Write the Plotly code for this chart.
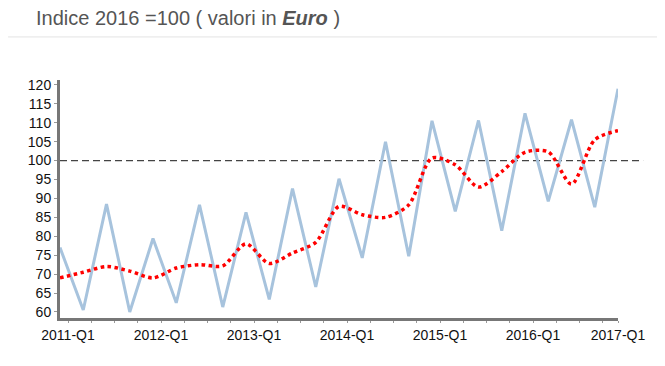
import plotly.graph_objects as go

quarters = [f"{y}-Q{q}" for y in range(2011, 2017) for q in range(1, 5)] + ["2017-Q1"]
tick_labels = ["2011-Q1", "2012-Q1", "2013-Q1", "2014-Q1", "2015-Q1", "2016-Q1", "2017-Q1"]
indice = [77, 60.5, 88.5, 60, 79.4, 62.4, 88.3, 61.3,
          86.3, 63.3, 92.6, 66.6, 95.2, 74.3, 105, 74.7,
          110.5, 86.6, 110.6, 81.5, 112.5, 89.2, 110.8, 87.7, 119]
trend = [69, 70.5, 72, 70.8, 69, 71.6, 72.5, 72.2,
         78, 72.8, 75.6, 78.4, 87.9, 85.7, 85, 88.3,
         100.7, 98.9, 93, 97.1, 102.2, 102.3, 93.8, 105.5, 107.9]
base_value = 100

xpos = list(range(len(quarters)))
label_offset = 0.344  # tick labels sit slightly right of their quarter in the original
tick_pos = [quarters.index(t) + label_offset for t in tick_labels[:-1]] + [quarters.index(tick_labels[-1])]

fig = go.Figure()
fig.add_trace(go.Scatter(x=xpos, y=indice, mode="lines", text=quarters,
                         line=dict(color="#a7c3dd", width=3), showlegend=False))
fig.add_trace(go.Scatter(x=xpos, y=trend, mode="lines", text=quarters,
                         line=dict(color="#ff0000", width=3.5, dash="dot", shape="spline", smoothing=0.8),
                         showlegend=False))

fig.add_shape(type="line", xref="paper", yref="y", x0=0, x1=1.045, y0=base_value, y1=base_value,
              line=dict(color="#444444", width=1.3, dash="7px,4px"), layer="below")
fig.add_shape(type="line", xref="paper", yref="paper", x0=-0.093, x1=1.09, y0=1.181, y1=1.181,
              line=dict(color="#e3e3e3", width=1))

fig.add_annotation(xref="paper", yref="paper", x=-0.046, y=1.26, xanchor="left", yanchor="middle",
                   showarrow=False,
                   text="Indice 2016 =100 ( valori in <b><i>Euro</i></b> )",
                   font=dict(family="Liberation Sans, Arial", size=20, color="#555555"))

fig.update_layout(
    width=657, height=358,
    margin=dict(l=52, r=47, t=72, b=48),
    plot_bgcolor="white", paper_bgcolor="white",
    font=dict(family="Liberation Sans, Arial", size=14, color="#111111"),
    xaxis=dict(tickmode="array", tickvals=tick_pos, ticktext=tick_labels,
               showgrid=False, showline=True, linecolor="#777777", linewidth=3,
               ticks="outside", ticklen=2, tickcolor="#999999", tickwidth=1,
               tickfont=dict(size=14, color="#111111"),
               range=[0, len(quarters) - 1], zeroline=False,
               minor=dict(ticks="outside", ticklen=2, tickcolor="#999999",
                          tick0=label_offset, dtick=1, tickwidth=1)),
    yaxis=dict(range=[58.4, 121.3], tickmode="linear", tick0=60, dtick=5,
               showgrid=False, showline=True, linecolor="#777777", linewidth=3,
               ticks="outside", ticklen=3, tickcolor="#999999", zeroline=False,
               tickfont=dict(size=14, color="#111111")),
)

fig.write_html("out.html")
